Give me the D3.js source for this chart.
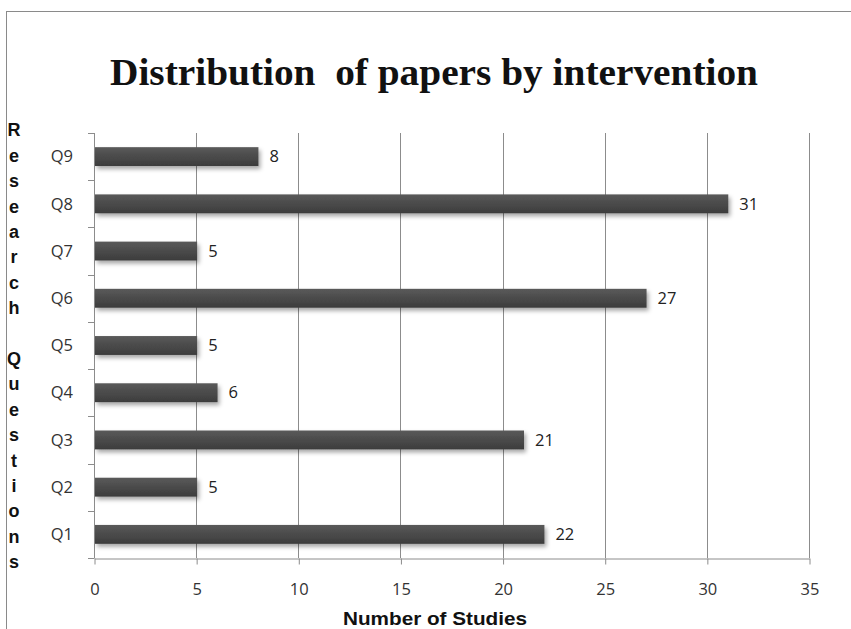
<!DOCTYPE html>
<html>
<head>
<meta charset="utf-8">
<script src="https://cdn.jsdelivr.net/npm/d3@7"></script>
<style>
  html, body { margin: 0; padding: 0; background: #ffffff; }
  svg { display: block; }
</style>
</head>
<body>
<svg id="chart" width="851" height="629"></svg>
<script>
// Research questions, listed bottom to top as drawn
const categories = ["Q1", "Q2", "Q3", "Q4", "Q5", "Q6", "Q7", "Q8", "Q9"];
const studies = [22, 5, 21, 6, 5, 27, 5, 31, 8];
const xTicks = [0, 5, 10, 15, 20, 25, 30, 35];
const titleText = "Distribution  of papers by intervention";
const xTitle = "Number of Studies";
const yTitle = "Research Questions";

const svg = d3.select("#chart");
const W = 851, H = 629;
const plot = { left: 94, right: 809, top: 133, bottom: 558 };
const labelFont = "'Open Sans', 'Liberation Sans', sans-serif";
const labelSize = 16.5;

// outer frame
svg.append("rect")
  .attr("x", 6.5).attr("y", 11.5)
  .attr("width", W + 10).attr("height", H + 10)
  .attr("fill", "#ffffff").attr("stroke", "#8a8a8a").attr("stroke-width", 1);

const defs = svg.append("defs");
const shadow = defs.append("filter").attr("id", "barShadow")
  .attr("x", "-5%").attr("y", "-30%").attr("width", "115%").attr("height", "190%");
shadow.append("feDropShadow")
  .attr("dx", 2).attr("dy", 3).attr("stdDeviation", 2)
  .attr("flood-color", "#000").attr("flood-opacity", 0.35);

const grad = defs.append("linearGradient").attr("id", "barFill")
  .attr("x1", 0).attr("y1", 0).attr("x2", 0).attr("y2", 1);
grad.append("stop").attr("offset", "0%").attr("stop-color", "#5a5a5a");
grad.append("stop").attr("offset", "45%").attr("stop-color", "#4c4c4c");
grad.append("stop").attr("offset", "100%").attr("stop-color", "#3c3c3c");

const x = d3.scaleLinear().domain([0, 35]).range([plot.left, plot.right]);
const y = d3.scaleBand()
  .domain(categories.slice().reverse())
  .range([plot.top, plot.bottom])
  .paddingInner(0.6).paddingOuter(0.3);

// title
svg.append("text")
  .attr("x", 434).attr("y", 85)
  .attr("text-anchor", "middle")
  .attr("font-family", "'Liberation Serif', 'DejaVu Serif', serif")
  .attr("font-weight", "bold")
  .attr("font-size", 38)
  .attr("textLength", 648).attr("lengthAdjust", "spacingAndGlyphs")
  .attr("fill", "#111")
  .style("white-space", "pre")
  .text(titleText);

// vertical gridlines
svg.append("g")
  .selectAll("line")
  .data(xTicks.filter(d => d > 0))
  .join("line")
  .attr("x1", d => Math.round(x(d)) + 0.5).attr("x2", d => Math.round(x(d)) + 0.5)
  .attr("y1", plot.top).attr("y2", plot.bottom)
  .attr("stroke", "#8c8c8c").attr("stroke-width", 1);

// x axis
const xAxis = svg.append("g")
  .attr("transform", `translate(0.5,${plot.bottom + 0.5})`)
  .call(d3.axisBottom(x).tickValues(xTicks).tickSize(6).tickPadding(19).tickSizeOuter(0));
xAxis.select(".domain").attr("stroke", "#8c8c8c");
xAxis.selectAll(".tick line").attr("stroke", "#8c8c8c");
xAxis.selectAll(".tick text")
  .attr("font-family", labelFont)
  .attr("font-size", labelSize).attr("fill", "#333");

// y axis: ticks at band boundaries
const boundaries = d3.range(categories.length + 1)
  .map(i => plot.top + i * (plot.bottom - plot.top) / categories.length);
svg.append("line")
  .attr("x1", plot.left + 0.5).attr("x2", plot.left + 0.5)
  .attr("y1", plot.top).attr("y2", plot.bottom)
  .attr("stroke", "#8c8c8c");
svg.append("g").selectAll("line")
  .data(boundaries)
  .join("line")
  .attr("x1", plot.left - 6).attr("x2", plot.left + 0.5)
  .attr("y1", d => Math.round(d) + 0.5).attr("y2", d => Math.round(d) + 0.5)
  .attr("stroke", "#8c8c8c");

// category labels
svg.append("g").selectAll("text")
  .data(categories)
  .join("text")
  .attr("x", 73)
  .attr("y", d => y(d) + y.bandwidth() / 2)
  .attr("dy", "0.35em")
  .attr("text-anchor", "end")
  .attr("font-family", labelFont)
  .attr("font-size", labelSize).attr("fill", "#333")
  .text(d => d);

// bars
const rows = categories.map((c, i) => ({ c, v: studies[i] }));
svg.append("g").selectAll("rect")
  .data(rows)
  .join("rect")
  .attr("x", x(0) + 1)
  .attr("y", d => y(d.c))
  .attr("width", d => x(d.v) - x(0))
  .attr("height", y.bandwidth())
  .attr("fill", "url(#barFill)")
  .attr("filter", "url(#barShadow)");

// value labels
svg.append("g").selectAll("text")
  .data(rows)
  .join("text")
  .attr("x", d => x(d.v) + 12)
  .attr("y", d => y(d.c) + y.bandwidth() / 2)
  .attr("dy", "0.35em")
  .attr("font-family", labelFont)
  .attr("font-size", labelSize).attr("fill", "#222")
  .text(d => d.v);

// x axis title
svg.append("text")
  .attr("x", 435).attr("y", 625)
  .attr("text-anchor", "middle")
  .attr("font-family", "'Liberation Sans', Arial, sans-serif")
  .attr("font-weight", "bold").attr("font-size", 19)
  .attr("textLength", 184).attr("lengthAdjust", "spacingAndGlyphs")
  .attr("fill", "#111")
  .text(xTitle);

// stacked y axis title
svg.append("g").selectAll("text")
  .data(yTitle.split(""))
  .join("text")
  .attr("x", 14)
  .attr("y", (d, i) => 130 + i * 25.4)
  .attr("dy", "0.35em")
  .attr("text-anchor", "middle")
  .attr("font-family", "'Liberation Sans', Arial, sans-serif")
  .attr("font-weight", "bold").attr("font-size", 18)
  .attr("fill", "#111")
  .text(d => d);
</script>
</body>
</html>
